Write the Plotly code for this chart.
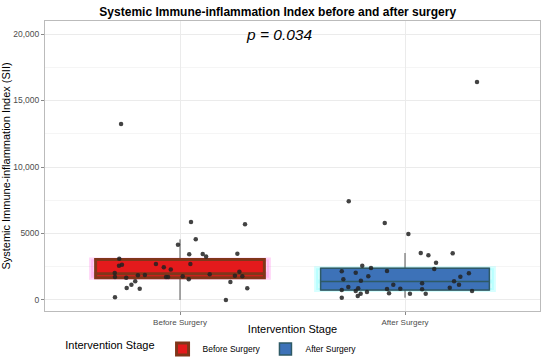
import plotly.graph_objects as go

# ---- data ----
categories = ["Before Surgery", "After Surgery"]
cat_pos = [1, 2]

before_jitter = [-0.289, -0.270, -0.271, -0.258, -0.290, -0.289, -0.239, -0.237, -0.216, -0.199,
                 -0.179, -0.187, -0.156, -0.107, -0.072, -0.062, -0.053, -0.041, -0.009, 0.012,
                 0.039, 0.041, 0.046, 0.049, 0.070, 0.101, 0.116, 0.132, 0.204, 0.224,
                 0.255, 0.244, 0.264, 0.277, 0.289, 0.299, -0.262]
before_sii = [200, 3100, 2580, 2650, 2030, 1730, 1680, 900, 1150, 1400,
              850, 1850, 1880, 2700, 2460, 1730, 1730, 2300, 4160, 1780,
              1550, 3430, 2700, 5860, 4560, 3460, 3260, 1930, 0, 1350,
              3480, 1830, 2130, 1780, 5690, 880, 13230]

after_jitter = [-0.250, -0.090, 0.015, 0.070, 0.104, 0.212, 0.138, 0.130, -0.281, -0.219,
                -0.190, -0.151, -0.080, -0.274, -0.196, -0.163, -0.252, -0.281, -0.219, -0.208,
                -0.197, -0.210, -0.169, -0.281, -0.080, -0.071, -0.052, -0.021, 0.022, 0.076,
                0.076, 0.092, 0.199, 0.218, 0.240, 0.246, 0.284, 0.298, 0.320]
after_sii = [7420, 5790, 4960, 3530, 3360, 3510, 2800, 2330, 2160, 2050,
             2580, 2400, 2180, 1550, 1450, 1780, 980, 750, 680, 880,
             470, 300, 600, 170, 830, 500, 1150, 850, 470, 1250,
             800, 470, 920, 1400, 1150, 1750, 2010, 680, 16390]

# box statistics
q1 = [1680, 750]
median = [1980, 1380]
q3 = [3050, 2380]
lower_whisker = [0, 170]
upper_whisker = [4560, 3530]

p_label = "p = 0.034"
p_y = 20000

y_ticks = [0, 5000, 10000, 15000, 20000]
y_ticktext = ["0", "5000", "10,000", "15,000", "20,000"]
y_minor = [2500, 7500, 12500, 17500]

fill_colors = ["#E41A1C", "#3D72B8"]
line_colors = ["#80361A", "#2E5A66"]
shadow_colors = ["rgba(255,120,230,0.30)", "rgba(120,255,255,0.30)"]
line_widths = [3, 1.5]

FONT = "Liberation Sans, Arial, sans-serif"

fig = go.Figure()

for i, cat in enumerate(categories):
    x = cat_pos[i]
    # shadow
    fig.add_trace(go.Box(
        x=[x], q1=[q1[i]], median=[median[i]], q3=[q3[i]],
        lowerfence=[q1[i]], upperfence=[q3[i]],
        width=0.79, fillcolor=shadow_colors[i],
        line=dict(color=shadow_colors[i], width=4),
        showlegend=False, hoverinfo="skip", boxpoints=False))
    # whiskers
    fig.add_trace(go.Box(
        x=[x], q1=[q1[i]], median=[median[i]], q3=[q3[i]],
        lowerfence=[lower_whisker[i]], upperfence=[upper_whisker[i]],
        width=0.75, whiskerwidth=0, fillcolor="rgba(0,0,0,0)",
        line=dict(color="#555555", width=1),
        showlegend=False, hoverinfo="skip", boxpoints=False))
    # box
    fig.add_trace(go.Box(
        x=[x], q1=[q1[i]], median=[median[i]], q3=[q3[i]],
        lowerfence=[q1[i]], upperfence=[q3[i]],
        width=0.75, whiskerwidth=0, fillcolor=fill_colors[i],
        line=dict(color=line_colors[i], width=line_widths[i]),
        name=cat, showlegend=True, boxpoints=False))

for pos, jit, vals in [(cat_pos[0], before_jitter, before_sii), (cat_pos[1], after_jitter, after_sii)]:
    fig.add_trace(go.Scatter(
        x=[pos + j for j in jit], y=vals, mode="markers",
        marker=dict(color="#222222", size=4.5, opacity=0.85),
        showlegend=False, hoverinfo="y"))

fig.add_annotation(x=1.44, y=p_y, xref="x", yref="y", text="<i>" + p_label + "</i>",
                   showarrow=False, font=dict(family=FONT, size=15.5, color="black"))

fig.update_layout(
    width=550, height=361,
    margin=dict(l=45, r=10, t=21, b=50, autoexpand=False),
    paper_bgcolor="white", plot_bgcolor="white",
    font=dict(family=FONT, color="black"),
    title=dict(text="<b>Systemic Immune-inflammation Index before and after surgery</b>",
               x=0.505, xanchor="center", y=0.968, yanchor="middle",
               xref="container", yref="container",
               font=dict(size=12, family=FONT, color="black")),
    boxmode="overlay",
    legend=dict(orientation="h", x=0.115, xanchor="left", y=0.033, yanchor="middle",
                xref="container", yref="container",
                title=dict(text="Intervention Stage", font=dict(size=11)),
                font=dict(size=8.5), itemwidth=30, tracegroupgap=0),
)

fig.update_xaxes(
    range=[0.4, 2.6], tickmode="array", tickvals=cat_pos, ticktext=categories,
    tickfont=dict(size=8, color="#4D4D4D"), automargin=False,
    title=dict(text="Intervention Stage", font=dict(size=11), standoff=5),
    showgrid=True, gridcolor="#EBEBEB", gridwidth=1,
    ticks="outside", ticklen=3, tickcolor="#888888",
    showline=True, linecolor="#BBBBBB", mirror=True, zeroline=False)

fig.update_yaxes(
    range=[-830, 20980], tickmode="array", tickvals=y_ticks, ticktext=y_ticktext,
    tickfont=dict(size=8.5, color="#4D4D4D"), automargin=False,
    title=dict(text="Systemic Immune-inflammation Index (SII)", font=dict(size=11), standoff=1),
    showgrid=True, gridcolor="#EBEBEB", gridwidth=1,
    minor=dict(tickvals=y_minor, showgrid=True, gridcolor="#F5F5F5", ticks=""),
    ticks="outside", ticklen=3, tickcolor="#888888",
    showline=True, linecolor="#BBBBBB", mirror=True, zeroline=False)

fig.write_html("out.html", config={"displayModeBar": False},
               post_script="document.body.style.margin='0';document.body.style.padding='0';")
